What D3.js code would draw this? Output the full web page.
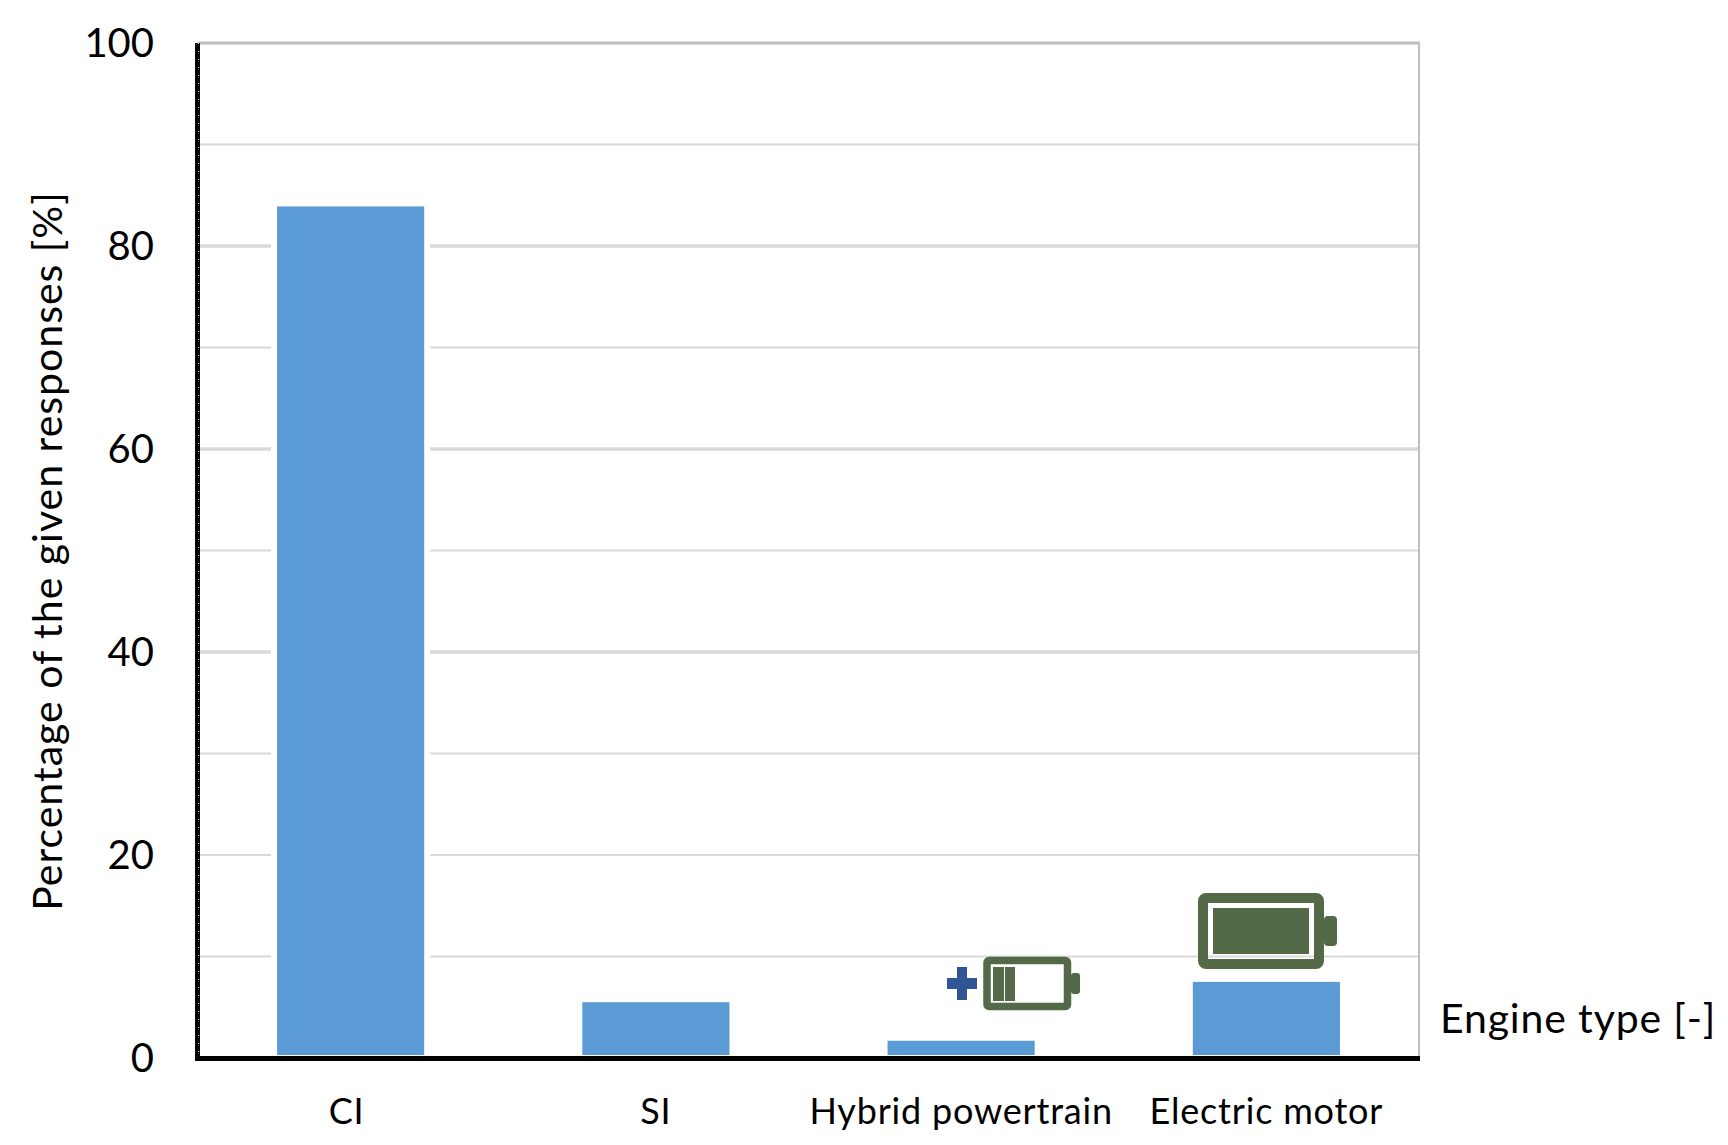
<!DOCTYPE html>
<html lang="en">
<head>
  <meta charset="UTF-8">
  <title>Engine type responses</title>
  <script src="https://d3js.org/d3.v7.min.js"></script>
  <style>
    html, body { margin: 0; padding: 0; background: white; }
    svg { display: block; }
    text { font-family: Lato, "Open Sans", sans-serif; fill: black; }
  </style>
</head>
<body>
  <svg width="1728" height="1145"></svg>
  <script>
    const categories = ["CI", "SI", "Hybrid powertrain", "Electric motor"];
    const values = [83.9, 5.5, 1.7, 7.5];
    const yLabelTicks = [0, 20, 40, 60, 80, 100];
    const majorGrid = [40, 60, 80];
    const minorGrid = [10, 20, 30, 50, 70, 90];

    const svg = d3.select("svg");
    const plotLeft = 198, plotRight = 1419, plotTop = 43, plotBottom = 1058;

    const x = d3.scaleBand().domain(categories).range([plotLeft, plotRight]).paddingInner(0.518).paddingOuter(0.259);
    const y = d3.scaleLinear().domain([0, 100]).range([plotBottom, plotTop]);

    // gridlines
    svg.append("g").selectAll("line").data(minorGrid).enter().append("line")
      .attr("x1", plotLeft).attr("x2", plotRight)
      .attr("y1", d => y(d)).attr("y2", d => y(d))
      .attr("stroke", "#d9d9d9").attr("stroke-width", 2);
    svg.append("g").selectAll("line").data(majorGrid).enter().append("line")
      .attr("x1", plotLeft).attr("x2", plotRight)
      .attr("y1", d => y(d)).attr("y2", d => y(d))
      .attr("stroke", "#d9d9d9").attr("stroke-width", 3.5);

    // frame top and right
    svg.append("line").attr("x1", plotLeft).attr("x2", plotRight + 1).attr("y1", y(100)).attr("y2", y(100))
      .attr("stroke", "#bfbfbf").attr("stroke-width", 3);
    svg.append("line").attr("x1", plotRight).attr("x2", plotRight).attr("y1", y(100)).attr("y2", plotBottom)
      .attr("stroke", "#bfbfbf").attr("stroke-width", 2);

    // white halo behind each bar cuts the gridlines either side
    svg.append("g").selectAll("rect").data(values).enter().append("rect")
      .attr("x", (d, i) => x(categories[i]) - 6)
      .attr("y", d => y(d))
      .attr("width", x.bandwidth() + 12)
      .attr("height", d => y(0) - y(d))
      .attr("fill", "white");
    svg.append("g").selectAll("rect").data(values).enter().append("rect")
      .attr("x", (d, i) => x(categories[i]))
      .attr("y", d => y(d))
      .attr("width", x.bandwidth())
      .attr("height", d => y(0) - y(d) - 3)
      .attr("fill", "#5b9bd5");

    // axes
    const yAxis = svg.append("g").attr("transform", `translate(${plotLeft - 44},0)`)
      .call(d3.axisLeft(y).tickValues(yLabelTicks).tickSize(0).tickPadding(0));
    yAxis.select(".domain").remove();
    yAxis.selectAll("text").style("font-size", "40px").style("font-family", "Lato").attr("dy", "0.33em");

    const xAxis = svg.append("g").attr("transform", `translate(0,${plotBottom})`)
      .call(d3.axisBottom(x).tickSize(0).tickPadding(40));
    xAxis.select(".domain").remove();
    xAxis.selectAll("text").style("font-size", "36px").style("font-family", "Lato")
      .style("letter-spacing", "0.8px")
      .attr("dx", (d, i) => (i === 0 ? -4 : 0));

    svg.append("line").attr("x1", plotLeft - 0.5).attr("x2", plotLeft - 0.5).attr("y1", plotTop).attr("y2", plotBottom + 3)
      .attr("stroke", "black").attr("stroke-width", 5);
    svg.append("line").attr("x1", plotLeft + 0.5).attr("x2", plotLeft + 0.5).attr("y1", plotTop).attr("y2", plotBottom)
      .attr("stroke", "white").attr("stroke-width", 1).attr("stroke-dasharray", "1 7");
    svg.append("line").attr("x1", plotLeft - 3).attr("x2", plotRight + 1).attr("y1", plotBottom + 0.5).attr("y2", plotBottom + 0.5)
      .attr("stroke", "black").attr("stroke-width", 5);

    // axis titles
    svg.append("text")
      .attr("transform", "translate(62,551) rotate(-90)")
      .attr("text-anchor", "middle")
      .style("font-size", "41px")
      .style("letter-spacing", "1px")
      .text("Percentage of the given responses [%]");
    svg.append("text")
      .attr("x", 1440).attr("y", 1033)
      .style("font-size", "41px")
      .style("letter-spacing", "0.85px")
      .text("Engine type [-]");

    // battery pictograms
    const green = "#546948";
    const hybrid = svg.append("g");
    hybrid.append("rect").attr("x", 987).attr("y", 960.5).attr("width", 80.5).attr("height", 46)
      .attr("rx", 2).attr("fill", "none").attr("stroke", green).attr("stroke-width", 7.5);
    hybrid.append("rect").attr("x", 1071).attr("y", 973).attr("width", 9).attr("height", 21).attr("rx", 3).attr("fill", green);
    hybrid.append("rect").attr("x", 993).attr("y", 967).attr("width", 11).attr("height", 34).attr("fill", green);
    hybrid.append("rect").attr("x", 1005).attr("y", 967).attr("width", 10).attr("height", 34).attr("fill", green);
    hybrid.append("rect").attr("x", 947).attr("y", 978).attr("width", 30).attr("height", 11).attr("fill", "#2f5597");
    hybrid.append("rect").attr("x", 957).attr("y", 967).attr("width", 10).attr("height", 33).attr("fill", "#2f5597");

    const electric = svg.append("g");
    electric.append("rect").attr("x", 1203).attr("y", 898).attr("width", 116).attr("height", 66)
      .attr("rx", 3).attr("fill", "none").attr("stroke", green).attr("stroke-width", 10);
    electric.append("rect").attr("x", 1324).attr("y", 916).attr("width", 13).attr("height", 30).attr("rx", 4).attr("fill", green);
    electric.append("rect").attr("x", 1213).attr("y", 908).attr("width", 96).attr("height", 46).attr("fill", green);
  </script>
</body>
</html>
